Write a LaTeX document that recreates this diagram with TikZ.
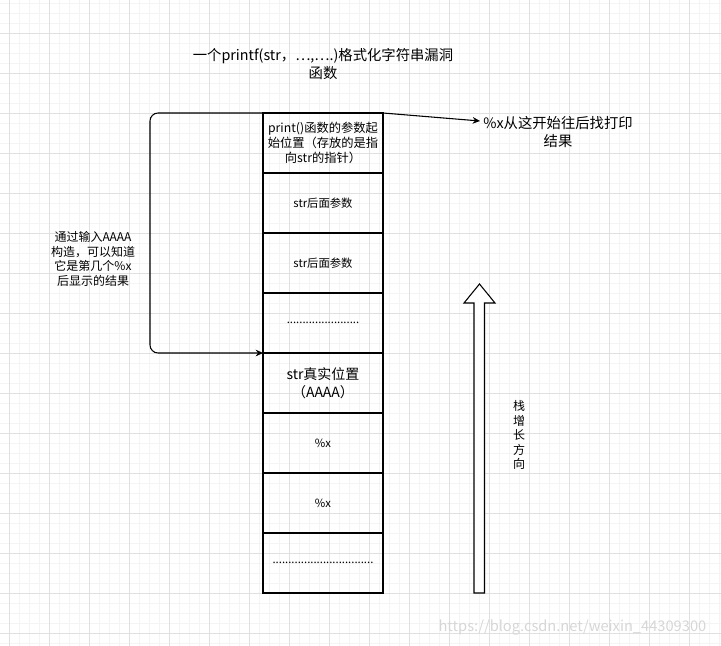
\documentclass[tikz,border=0pt]{standalone}
\usepackage{fontspec}
\setmainfont{Noto Sans CJK SC}
\usetikzlibrary{positioning,arrows.meta}
\definecolor{gridminor}{HTML}{F4F4F4}
\definecolor{gridmajor}{HTML}{E0E0E0}
\definecolor{markgray}{HTML}{D6D6D6}
\begin{document}
\begin{tikzpicture}[x=0.75pt,y=-0.75pt,>={Stealth[length=5.5pt,width=5pt]},
  cell/.style={draw, line width=0.8pt, minimum width=90pt, minimum height=45pt,
    inner sep=1pt, outer sep=0pt, align=center, font=\fontsize{8.5}{11.25}\selectfont},
  bigcell/.style={cell, font=\fontsize{10.5}{13.5}\selectfont},
  note/.style={align=center, font=\fontsize{10.75}{13.5}\selectfont},
  smallnote/.style={align=center, font=\fontsize{9}{11}\selectfont},
  conn/.style={->, line width=0.8pt}]
 \useasboundingbox (0,0) rectangle (721,646);
 \foreach \gx in {9,19,...,719} \draw[gridminor, line width=0.75pt] (\gx,0) -- (\gx,646);
 \foreach \gy in {3,13,...,643} \draw[gridminor, line width=0.75pt] (0,\gy) -- (721,\gy);
 \foreach \gx in {9,49,...,689} \draw[gridmajor, line width=0.75pt] (\gx,0) -- (\gx,646);
 \foreach \gy in {33,73,...,633} \draw[gridmajor, line width=0.75pt] (0,\gy) -- (721,\gy);
 \node[note] (title) at (323,64) {一个printf(str，…,….)格式化字符串漏洞\\函数};
 \node[cell, font=\fontsize{9.2}{11.25}\selectfont] (c1) at (323,143) {print()函数的参数起\\始位置（存放的是指\\向str的指针）};
 \node[cell, below=0pt of c1] (c2) {str后面参数};
 \node[cell, below=0pt of c2] (c3) {str后面参数};
 \node[cell, below=0pt of c3] (c4) {.......................};
 \node[bigcell, below=0pt of c4] (c5) {str真实位置\\（AAAA）};
 \node[cell, below=0pt of c5] (c6) {\%x};
 \node[cell, below=0pt of c6] (c7) {\%x};
 \node[cell, below=0pt of c7] (c8) {................................};
 \node[note] (xnote) at (558,132) {\%x从这开始往后找打印\\结果};
 \coordinate (xtip) at (480,121);
 \draw[conn] (c1.north east) -- (xtip);
 \node[smallnote] (aaaa) at (93,259) {通过输入AAAA\\构造，可以知道\\它是第几个\%x\\后显示的结果};
 \coordinate (bendtop) at (150,113);
 \coordinate (bendbot) at (150,353);
 \draw[conn, rounded corners=6pt] (c1.north west) -- (bendtop) -- (bendbot) -- (c5.north west);
 \draw[line width=0.8pt, fill=white] (474,593) -- (474,303) -- (464,303) -- (479.5,284)
   -- (495,303) -- (484.5,303) -- (484.5,593) -- cycle;
 \node[smallnote, font=\fontsize{9}{10.9}\selectfont] (grow) at (519,435) {栈\\增\\长\\方\\向};
 \node[anchor=east, text=markgray, font=\fontsize{11}{13}\selectfont] (mark) at (711,627) {https://blog.csdn.net/weixin\_44309300};
\end{tikzpicture}
\end{document}
